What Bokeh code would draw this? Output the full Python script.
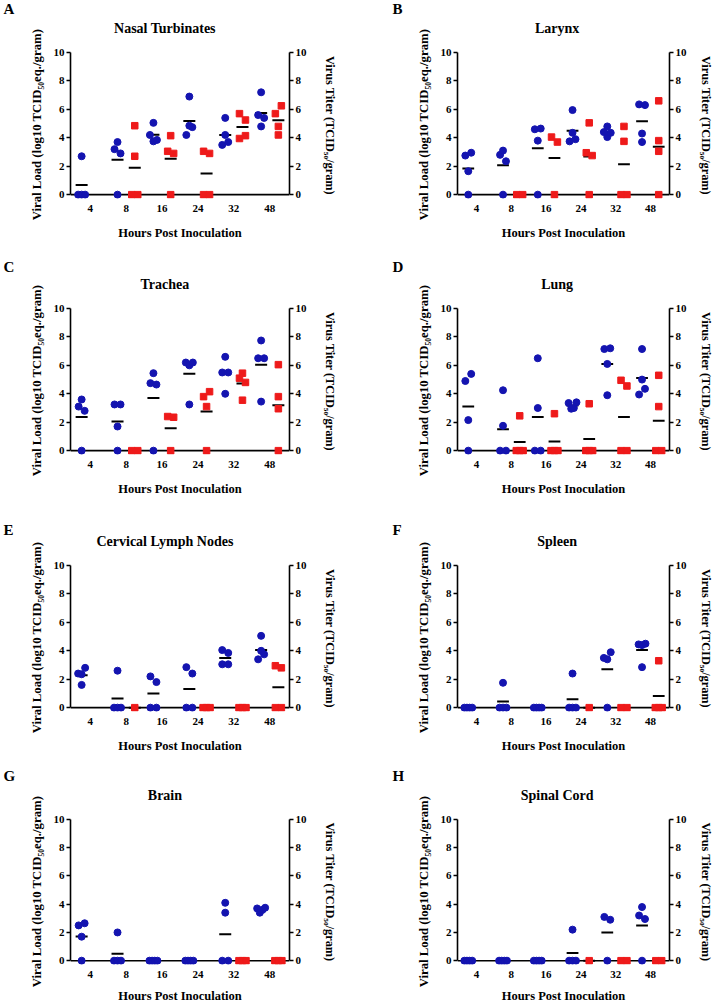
import numpy as np
from bokeh.plotting import figure
from bokeh.models import Range1d, LinearAxis, FixedTicker, Span
from bokeh.core.properties import value
from bokeh.layouts import column, row
from bokeh.embed import file_html
from bokeh.resources import INLINE

# ---------------- data ----------------
times = ["4", "8", "16", "24", "32", "48"]
panel_letters = ["A", "B", "C", "D", "E", "F", "G", "H"]
tissues = ["Nasal Turbinates", "Larynx", "Trachea", "Lung",
           "Cervical Lymph Nodes", "Spleen", "Brain", "Spinal Cord"]

# viral load (blue circles, left axis), one list per time point
nasal_load = [[2.7, 0, 0, 0], [3.2, 3.7, 0, 2.9], [4.2, 5.05, 3.75, 3.85],
              [4.2, 6.9, 4.85, 4.75], [3.5, 4.2, 5.4, 3.7], [5.6, 7.2, 4.8, 5.4]]
larynx_load = [[2.75, 1.65, 0, 2.95], [2.8, 3.1, 0, 2.35], [4.6, 3.8, 0, 4.65],
               [4.35, 5.95, 3.75, 3.9], [4.4, 4.8, 4.05, 4.35], [6.35, 3.7, 6.3, 4.3]]
trachea_load = [[3.1, 3.6, 0, 2.8], [3.25, 1.7, 0, 3.25], [4.75, 5.45, 0, 4.65],
                [6.2, 3.25, 6.0, 6.2], [5.5, 6.6, 4.0, 5.5], [6.5, 7.75, 3.45, 6.5]]
lung_load = [[4.9, 2.15, 0, 5.4], [0, 4.25, 1.75, 0], [0, 6.5, 3.0, 0],
             [3.35, 2.95, 3.0, 3.4], [7.15, 6.1, 3.9, 7.2], [3.95, 7.15, 5.0, 4.35]]
cln_load = [[2.4, 1.6, 2.35, 2.8], [0, 2.6, 0, 0], [2.2, 0, 0, 1.8],
            [2.85, 0, 0, 2.4], [4.05, 3.05, 3.85, 3.05], [4.0, 5.05, 3.4, 3.75]]
spleen_load = [[0, 0, 0, 0], [0, 1.75, 0, 0], [0, 0, 0, 0],
               [0, 2.4, 0, 0], [3.5, 0, 3.4, 3.9], [4.45, 2.85, 4.4, 4.5]]
brain_load = [[2.5, 1.7, 0, 2.65], [0, 2.0, 0, 0], [0, 0, 0, 0],
              [0, 0, 0, 0], [0, 4.1, 3.4, 0], [3.7, 3.4, 3.6, 3.75]]
cord_load = [[0, 0, 0, 0], [0, 0, 0, 0], [0, 0, 0, 0],
             [0, 2.2, 0, 0], [3.1, 0, 2.9], [3.2, 3.8, 0, 2.95]]

# virus titer (red squares, right axis), one list per time point
nasal_titer = [[], [4.85, 2.7, 0, 0], [3.05, 4.15, 2.9, 0],
               [3.05, 2.9, 0, 0], [3.95, 5.7, 5.25, 4.15], [5.7, 4.8, 4.2, 6.25]]
larynx_titer = [[], [0, 0], [4.05, 0, 3.7],
                [2.95, 5.05, 0, 2.75], [4.8, 3.75, 0, 0], [6.6, 3.8, 3.05, 0]]
trachea_titer = [[], [0, 0], [2.4, 0, 2.35],
                 [3.8, 3.1, 0, 4.15], [5.1, 5.45, 3.55, 4.8], [6.05, 3.8, 2.95, 0]]
lung_titer = [[], [2.45, 0, 0, 0], [2.6, 0, 0, 0],
              [3.3, 0, 0, 0], [4.95, 0, 0, 4.55], [5.3, 3.1, 0, 0]]
cln_titer = [[], [0], [], [0, 0, 0], [0, 0, 0], [2.95, 0, 0, 2.8]]
spleen_titer = [[], [], [], [0], [0, 0], [3.3, 0, 0, 0]]
brain_titer = [[], [], [], [], [0, 0, 0], [0, 0, 0]]
cord_titer = [[], [], [], [0], [0, 0], [0, 0]]

loads = [nasal_load, larynx_load, trachea_load, lung_load,
         cln_load, spleen_load, brain_load, cord_load]
titers = [nasal_titer, larynx_titer, trachea_titer, lung_titer,
          cln_titer, spleen_titer, brain_titer, cord_titer]

y_ticks = [0, 2, 4, 6, 8, 10]
load_label = "Viral Load (log10 TCID\u2085\u2080eq./gram)"
titer_label = "Virus Titer (TCID\u2085\u2080/gram)"
x_label = "Hours Post Inoculation"

# ---------------- style / layout ----------------
BLUE = "#1414b0"
RED = "#ee1a1a"
FONT = "Liberation Serif"
X0, X1 = -0.55, 5.55
Y0, Y1 = -0.27, 10
FRAME_H = 148
MAIN_TOP = 8
HEADER_H = [44, 58, 59, 56]
LETTER_ABOVE_FRAME = [44, 42, 36, 44]
TITLE_UP = 16                     # title centre above header bottom (px)
ROW_BOTTOM = [42, 42, 42, 38]
COL_W = [357, 358]
STRIP_W = [45, 75]                # left strip: panel letter + y title
MAIN_LEFT = 25
COL_FRAME_W = [219, 216]
LETTER_X = [3, 35]
YTITLE_GAP = 34                   # y-title centre left of the axis line


def spread(vals, center, ppc, ppu):
    """GraphPad-like horizontal spreading of near-equal values."""
    n = len(vals)
    xs = [center] * n
    order = sorted(range(n), key=lambda k: vals[k])
    clusters = []
    for k in order:
        if clusters and (vals[k] - vals[clusters[-1][0]]) * ppu < 8.5:
            clusters[-1].append(k)
        else:
            clusters.append([k])
    for c in clusters:
        m = len(c)
        if m > 1:
            c = sorted(c)
            h = 3 + 0.5 * (m - 2)
            for j, k in enumerate(c):
                xs[k] = center + (-h + 2 * h * j / (m - 1)) / ppc
    return xs


def blank_fig(w, h):
    f = figure(width=w, height=h, x_range=Range1d(0, w), y_range=Range1d(0, h),
               x_axis_type=None, y_axis_type=None, toolbar_location=None,
               output_backend="svg", min_border_left=0, min_border_right=0,
               min_border_top=0, min_border_bottom=0,
               background_fill_color="white", border_fill_color="white",
               outline_line_color=None)
    f.grid.visible = False
    return f


def style_y_axis(ax):
    ax.ticker = FixedTicker(ticks=y_ticks)
    ax.bounds = (0, 10)
    ax.axis_line_width = 1.6
    ax.axis_line_color = "black"
    ax.major_tick_line_width = 1.6
    ax.major_tick_out = 4
    ax.major_tick_in = 0
    ax.minor_tick_out = 0
    ax.minor_tick_in = 0
    ax.major_label_standoff = 2
    ax.major_label_text_font = FONT
    ax.major_label_text_font_style = "bold"
    ax.major_label_text_font_size = "11px"
    ax.major_label_text_color = "black"


def make_panel(k):
    load, titer = loads[k], titers[k]
    col, r = k % 2, k // 2
    strip_w = STRIP_W[col]
    width = COL_W[col] - strip_w
    frame_w = COL_FRAME_W[col]
    mbr = width - MAIN_LEFT - frame_w
    bottom = ROW_BOTTOM[r]
    main_h = MAIN_TOP + FRAME_H + bottom
    panel_h = HEADER_H[r] + main_h
    ppc = frame_w / (X1 - X0)
    ppu = FRAME_H / (Y1 - Y0)
    frame_top_from_bottom = bottom + FRAME_H

    # --- header with tissue title ---
    header = blank_fig(width, HEADER_H[r])
    header.text(x=[MAIN_LEFT + frame_w / 2], y=[TITLE_UP], text=[tissues[k]],
                text_font=value(FONT), text_font_style="bold",
                text_font_size="14px", text_color="black",
                text_align="center", text_baseline="middle")

    # --- left strip with panel letter and left axis title ---
    strip = blank_fig(strip_w, panel_h)
    strip.text(x=[LETTER_X[col]], y=[frame_top_from_bottom + LETTER_ABOVE_FRAME[r]],
               text=[panel_letters[k]],
               text_font=value(FONT), text_font_style="bold",
               text_font_size="15px", text_color="black",
               text_align="left", text_baseline="middle")
    strip.text(x=[strip_w + MAIN_LEFT - YTITLE_GAP], y=[bottom + (5 - Y0) * ppu],
               text=[load_label], angle=np.pi / 2,
               text_font=value(FONT), text_font_style="bold",
               text_font_size="12.75px", text_color="black",
               text_align="center", text_baseline="middle")

    # --- main plot ---
    p = figure(width=width, height=main_h,
               x_range=Range1d(X0, X1), y_range=Range1d(Y0, Y1),
               toolbar_location=None, output_backend="svg",
               min_border_left=MAIN_LEFT, min_border_right=mbr,
               min_border_top=MAIN_TOP, min_border_bottom=bottom,
               background_fill_color="white", border_fill_color="white",
               outline_line_color=None)
    p.extra_y_ranges = {"titer": Range1d(Y0, Y1)}
    p.xgrid.visible = False
    p.ygrid.visible = False

    style_y_axis(p.yaxis[0])
    rax = LinearAxis(y_range_name="titer")
    style_y_axis(rax)
    rax.axis_label = titer_label
    rax.axis_label_standoff = 13 if col == 0 else 9
    rax.axis_label_text_font = FONT
    rax.axis_label_text_font_style = "bold"
    rax.axis_label_text_font_size = "12.3px"
    rax.axis_label_text_color = "black"
    p.add_layout(rax, "right")

    xa = p.xaxis[0]
    xa.ticker = FixedTicker(ticks=list(range(len(times))))
    xa.major_label_overrides = {i: t for i, t in enumerate(times)}
    xa.axis_line_color = None
    xa.major_tick_line_color = None
    xa.minor_tick_line_color = None
    xa.major_label_standoff = 0
    xa.major_label_text_font = FONT
    xa.major_label_text_font_style = "bold"
    xa.major_label_text_font_size = "11px"
    xa.major_label_text_color = "black"
    xa.axis_label = x_label
    xa.axis_label_standoff = 11 if r < 3 else 8
    xa.axis_label_text_font = FONT
    xa.axis_label_text_font_style = "bold"
    xa.axis_label_text_font_size = "12.5px"
    xa.axis_label_text_color = "black"

    p.add_layout(Span(location=0, dimension="width", line_color="black",
                      line_width=1.6, level="underlay"))

    bx, by, rx, ry = [], [], [], []
    mx0, mx1, my = [], [], []
    for i in range(len(times)):
        for vals, off, xl, yl in ((load[i], -0.24, bx, by), (titer[i], 0.24, rx, ry)):
            if not vals:
                continue
            c = i + off
            xl.extend(spread(vals, c, ppc, ppu))
            yl.extend(vals)
            m = float(np.mean(vals))
            mx0.append(c - 6 / ppc)
            mx1.append(c + 6 / ppc)
            my.append(m)

    p.segment(x0=mx0, y0=my, x1=mx1, y1=my, line_color="black", line_width=2)
    p.scatter(bx, by, marker="circle", size=7, fill_color=BLUE, line_color=BLUE)
    p.scatter(rx, ry, marker="square", size=6.5, fill_color=RED, line_color=RED,
              y_range_name="titer")
    return row(strip, column(header, p, spacing=0), spacing=0)


panels = [make_panel(k) for k in range(8)]
layout = column(*[row(panels[2 * r], panels[2 * r + 1], spacing=0) for r in range(4)],
                spacing=0)

open("out.html", "w").write(file_html(layout, INLINE))
